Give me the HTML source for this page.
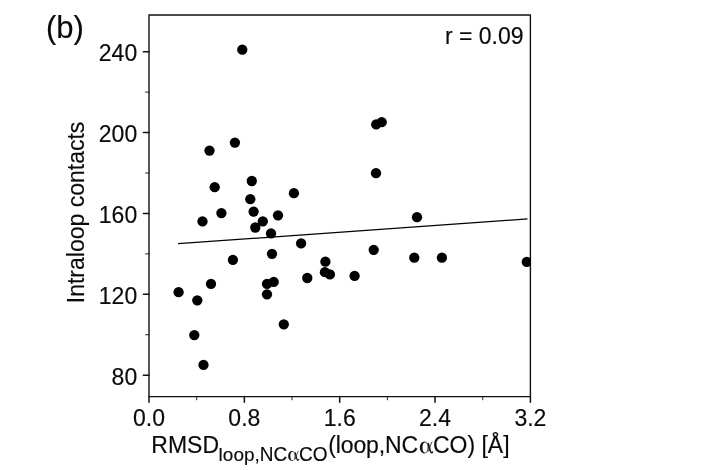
<!DOCTYPE html>
<html><head><meta charset="utf-8"><title>b</title>
<style>
html,body{margin:0;padding:0;background:#fff;}
body{width:724px;height:470px;overflow:hidden;}
svg{display:block;will-change:transform;}
text{font-family:"Liberation Sans",sans-serif;fill:#0a0a0a;stroke:#0a0a0a;stroke-width:0.15px;}
</style></head><body>
<svg width="724" height="470" viewBox="0 0 724 470">
<rect x="0" y="0" width="724" height="470" fill="#fff"/>
<defs><clipPath id="c"><rect x="149.00" y="15.00" width="382.00" height="381.60"/></clipPath></defs>

<g stroke="#111" stroke-width="1.4" fill="none" stroke-linecap="round">
<line x1="149.00" y1="396.60" x2="149.00" y2="402.20" stroke-width="1.5"/>
<line x1="196.68" y1="396.60" x2="196.68" y2="399.80" stroke-width="0.9"/>
<line x1="244.35" y1="396.60" x2="244.35" y2="402.20" stroke-width="1.5"/>
<line x1="292.02" y1="396.60" x2="292.02" y2="399.80" stroke-width="0.9"/>
<line x1="339.70" y1="396.60" x2="339.70" y2="402.20" stroke-width="1.5"/>
<line x1="387.38" y1="396.60" x2="387.38" y2="399.80" stroke-width="0.9"/>
<line x1="435.05" y1="396.60" x2="435.05" y2="402.20" stroke-width="1.5"/>
<line x1="482.72" y1="396.60" x2="482.72" y2="399.80" stroke-width="0.9"/>
<line x1="530.40" y1="396.60" x2="530.40" y2="402.20" stroke-width="1.5"/>
<line x1="149.00" y1="375.20" x2="143.40" y2="375.20" stroke-width="1.5"/>
<line x1="149.00" y1="334.76" x2="145.50" y2="334.76" stroke-width="0.9"/>
<line x1="149.00" y1="294.32" x2="143.40" y2="294.32" stroke-width="1.5"/>
<line x1="149.00" y1="253.89" x2="145.50" y2="253.89" stroke-width="0.9"/>
<line x1="149.00" y1="213.45" x2="143.40" y2="213.45" stroke-width="1.5"/>
<line x1="149.00" y1="173.01" x2="145.50" y2="173.01" stroke-width="0.9"/>
<line x1="149.00" y1="132.57" x2="143.40" y2="132.57" stroke-width="1.5"/>
<line x1="149.00" y1="92.14" x2="145.50" y2="92.14" stroke-width="0.9"/>
<line x1="149.00" y1="51.70" x2="143.40" y2="51.70" stroke-width="1.5"/>
</g>
<rect x="149.00" y="15.00" width="381.40" height="381.60" fill="none" stroke="#111" stroke-width="1.4" stroke-linejoin="round"/>
<line x1="178.1" y1="243.7" x2="527.5" y2="218.95" stroke="#000" stroke-width="1.3"/>
<g fill="#000" clip-path="url(#c)">
<circle cx="242.3" cy="49.7" r="5.15"/>
<circle cx="209.5" cy="150.6" r="5.15"/>
<circle cx="234.9" cy="142.6" r="5.15"/>
<circle cx="214.7" cy="187.2" r="5.15"/>
<circle cx="251.8" cy="181.0" r="5.15"/>
<circle cx="293.9" cy="193.2" r="5.15"/>
<circle cx="250.3" cy="199.2" r="5.15"/>
<circle cx="221.4" cy="213.1" r="5.15"/>
<circle cx="253.6" cy="211.6" r="5.15"/>
<circle cx="278.0" cy="215.3" r="5.15"/>
<circle cx="202.5" cy="221.4" r="5.15"/>
<circle cx="262.8" cy="221.3" r="5.15"/>
<circle cx="255.3" cy="227.5" r="5.15"/>
<circle cx="271.0" cy="233.4" r="5.15"/>
<circle cx="301.1" cy="243.4" r="5.15"/>
<circle cx="272.0" cy="253.8" r="5.15"/>
<circle cx="232.9" cy="259.8" r="5.15"/>
<circle cx="325.4" cy="261.7" r="5.15"/>
<circle cx="307.3" cy="278.0" r="5.15"/>
<circle cx="211.0" cy="283.9" r="5.15"/>
<circle cx="273.7" cy="281.9" r="5.15"/>
<circle cx="267.0" cy="283.9" r="5.15"/>
<circle cx="178.6" cy="292.2" r="5.15"/>
<circle cx="267.0" cy="294.3" r="5.15"/>
<circle cx="197.3" cy="300.3" r="5.15"/>
<circle cx="283.8" cy="324.3" r="5.15"/>
<circle cx="194.3" cy="335.1" r="5.15"/>
<circle cx="203.5" cy="364.9" r="5.15"/>
<circle cx="376.2" cy="124.4" r="5.15"/>
<circle cx="381.7" cy="122.2" r="5.15"/>
<circle cx="376.0" cy="173.2" r="5.15"/>
<circle cx="417.0" cy="217.2" r="5.15"/>
<circle cx="373.7" cy="249.8" r="5.15"/>
<circle cx="414.3" cy="257.7" r="5.15"/>
<circle cx="441.9" cy="257.7" r="5.15"/>
<circle cx="324.9" cy="272.2" r="5.15"/>
<circle cx="329.9" cy="274.4" r="5.15"/>
<circle cx="354.6" cy="275.9" r="5.15"/>
<circle cx="526.8" cy="261.9" r="5.15"/>
</g>
<text x="149.00" y="425.5" font-size="23" text-anchor="middle">0.0</text>
<text x="244.35" y="425.5" font-size="23" text-anchor="middle">0.8</text>
<text x="339.70" y="425.5" font-size="23" text-anchor="middle">1.6</text>
<text x="435.05" y="425.5" font-size="23" text-anchor="middle">2.4</text>
<text x="530.40" y="425.5" font-size="23" text-anchor="middle">3.2</text>
<text x="137.2" y="384.50" font-size="23" text-anchor="end">80</text>
<text x="137.2" y="303.62" font-size="23" text-anchor="end">120</text>
<text x="137.2" y="222.75" font-size="23" text-anchor="end">160</text>
<text x="137.2" y="141.88" font-size="23" text-anchor="end">200</text>
<text x="137.2" y="61.00" font-size="23" text-anchor="end">240</text>
<text x="523.6" y="43.8" font-size="23" text-anchor="end">r = 0.09</text>
<text x="46.0" y="38.0" font-size="31">(b)</text>
<g transform="translate(84.0,303.2) rotate(-90)"><text font-size="23">I</text><text x="6.39" y="0" font-size="23">ntraloop contacts</text></g>
<text transform="translate(151.30,453.10) scale(1,1.043)" font-size="23">RMSD</text>
<text x="218.60" y="460.50" font-size="19">loop,</text>
<text transform="translate(259.80,460.50) scale(1,1.043)" font-size="19">NC</text>
<g transform="translate(287.40,460.50) scale(0.0190,-0.0190)" fill="#111" stroke="#111"><path fill-rule="evenodd" stroke="none" d="M235 500 A195 259 0 1 0 235 -18 A195 259 0 1 0 235 500 Z M268 462 A112 221 0 1 1 268 20 A112 221 0 1 1 268 462 Z"/><path fill="none" stroke-width="38" stroke-linecap="round" d="M565 478 C520 400 470 250 425 90"/><path fill="none" stroke-width="62" stroke-linecap="butt" d="M395 440 C450 330 470 150 515 45 C535 0 585 5 600 70"/></g>
<text transform="translate(299.00,460.50) scale(1,1.043)" font-size="19">CO</text>
<text x="328.20" y="453.10" font-size="23" textLength="56.9" lengthAdjust="spacing">(loop,</text>
<text transform="translate(385.00,453.10) scale(1,1.043)" font-size="23">NC</text>
<g transform="translate(418.90,453.10) scale(0.0230,-0.0230)" fill="#111" stroke="#111"><path fill-rule="evenodd" stroke="none" d="M235 500 A195 259 0 1 0 235 -18 A195 259 0 1 0 235 500 Z M268 462 A112 221 0 1 1 268 20 A112 221 0 1 1 268 462 Z"/><path fill="none" stroke-width="38" stroke-linecap="round" d="M565 478 C520 400 470 250 425 90"/><path fill="none" stroke-width="62" stroke-linecap="butt" d="M395 440 C450 330 470 150 515 45 C535 0 585 5 600 70"/></g>
<text transform="translate(432.90,453.10) scale(1,1.043)" font-size="23">CO</text>
<text x="467.40" y="453.10" font-size="23">) [</text>
<text transform="translate(487.85,453.10) scale(1,1.043)" font-size="23">Å</text>
<text x="503.30" y="453.10" font-size="23">]</text>
</svg></body></html>
